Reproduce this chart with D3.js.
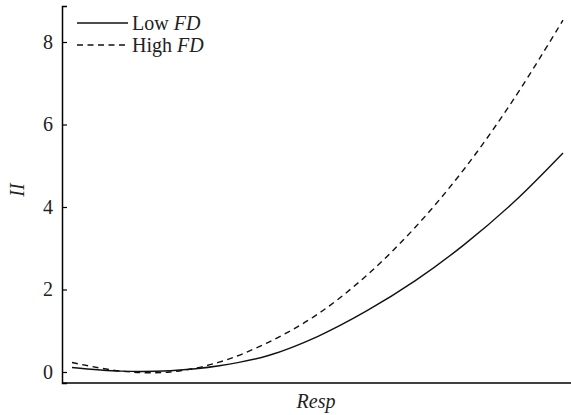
<!DOCTYPE html>
<html>
<head>
<meta charset="utf-8">
<script src="https://cdn.jsdelivr.net/npm/d3@7"></script>
<style>
  body { margin: 0; background: #fff; }
  svg { display: block; font-family: "Liberation Serif", "Times New Roman", serif; }
</style>
</head>
<body>
<svg id="chart"></svg>
<script>
// response levels (arbitrary units, no ticks shown on the x axis)
var resp = [0, 1, 2, 3, 4, 5, 6, 7, 8, 9, 10];
var lowFD = [0.11, 0.02, 0.03, 0.15, 0.40, 0.86, 1.48, 2.22, 3.10, 4.12, 5.31];
var highFD = [0.23, 0.02, 0.0, 0.24, 0.72, 1.40, 2.34, 3.52, 4.94, 6.62, 8.53];
var yTicks = [0, 2, 4, 6, 8];

var width = 571, height = 415;
var svg = d3.select("#chart").attr("width", width).attr("height", height);

var x = d3.scaleLinear().domain([-0.204, 10.163]).range([62, 571]);
var y = d3.scaleLinear().domain([-0.267, 8.873]).range([383, 6]);

// left axis, ticks pointing inward
var yAxis = d3.axisLeft(y).tickValues(yTicks).tickSize(-5).tickPadding(9).tickFormat(d3.format("d"));
var gy = svg.append("g").attr("transform", "translate(62,0)").call(yAxis);
gy.select(".domain").attr("stroke-width", 1.5);
gy.selectAll(".tick line").attr("stroke-width", 1.2);
gy.selectAll(".tick text")
  .attr("font-size", 20)
  .attr("font-family", "Liberation Serif")
  .attr("fill", "#222");

// bottom axis, no ticks
svg.append("line")
  .attr("x1", 62).attr("x2", 571)
  .attr("y1", 383).attr("y2", 383)
  .attr("stroke", "#000").attr("stroke-width", 1.5);

var line = d3.line()
  .x(function (d, i) { return x(resp[i]); })
  .y(function (d) { return y(d); })
  .curve(d3.curveCatmullRom);

svg.append("path")
  .datum(lowFD)
  .attr("d", line)
  .attr("fill", "none")
  .attr("stroke", "#111")
  .attr("stroke-width", 1.4);

svg.append("path")
  .datum(highFD)
  .attr("d", line)
  .attr("fill", "none")
  .attr("stroke", "#111")
  .attr("stroke-width", 1.4)
  .attr("stroke-dasharray", "6,4.5");

// legend
var legend = [
  { name: "Low ", dash: null },
  { name: "High ", dash: "6,4.5" },
];
var lg = svg.append("g").attr("class", "legend");
legend.forEach(function (d, i) {
  var ly = 23 + i * 22;
  lg.append("line")
    .attr("x1", 77).attr("x2", 128)
    .attr("y1", ly).attr("y2", ly)
    .attr("stroke", "#111").attr("stroke-width", 1.3)
    .attr("stroke-dasharray", d.dash);
  var t = lg.append("text")
    .attr("x", 132).attr("y", ly + 7)
    .attr("font-size", 20).attr("fill", "#222");
  t.append("tspan").text(d.name);
  t.append("tspan").attr("font-style", "italic").text("FD");
});

// axis titles
svg.append("text")
  .attr("transform", "translate(24,190) rotate(-90)")
  .attr("text-anchor", "middle")
  .attr("font-size", 20)
  .attr("font-style", "italic")
  .attr("fill", "#222")
  .text("II");

svg.append("text")
  .attr("x", 316).attr("y", 408)
  .attr("text-anchor", "middle")
  .attr("font-size", 20)
  .attr("font-style", "italic")
  .attr("fill", "#222")
  .text("Resp");
</script>
</body>
</html>
